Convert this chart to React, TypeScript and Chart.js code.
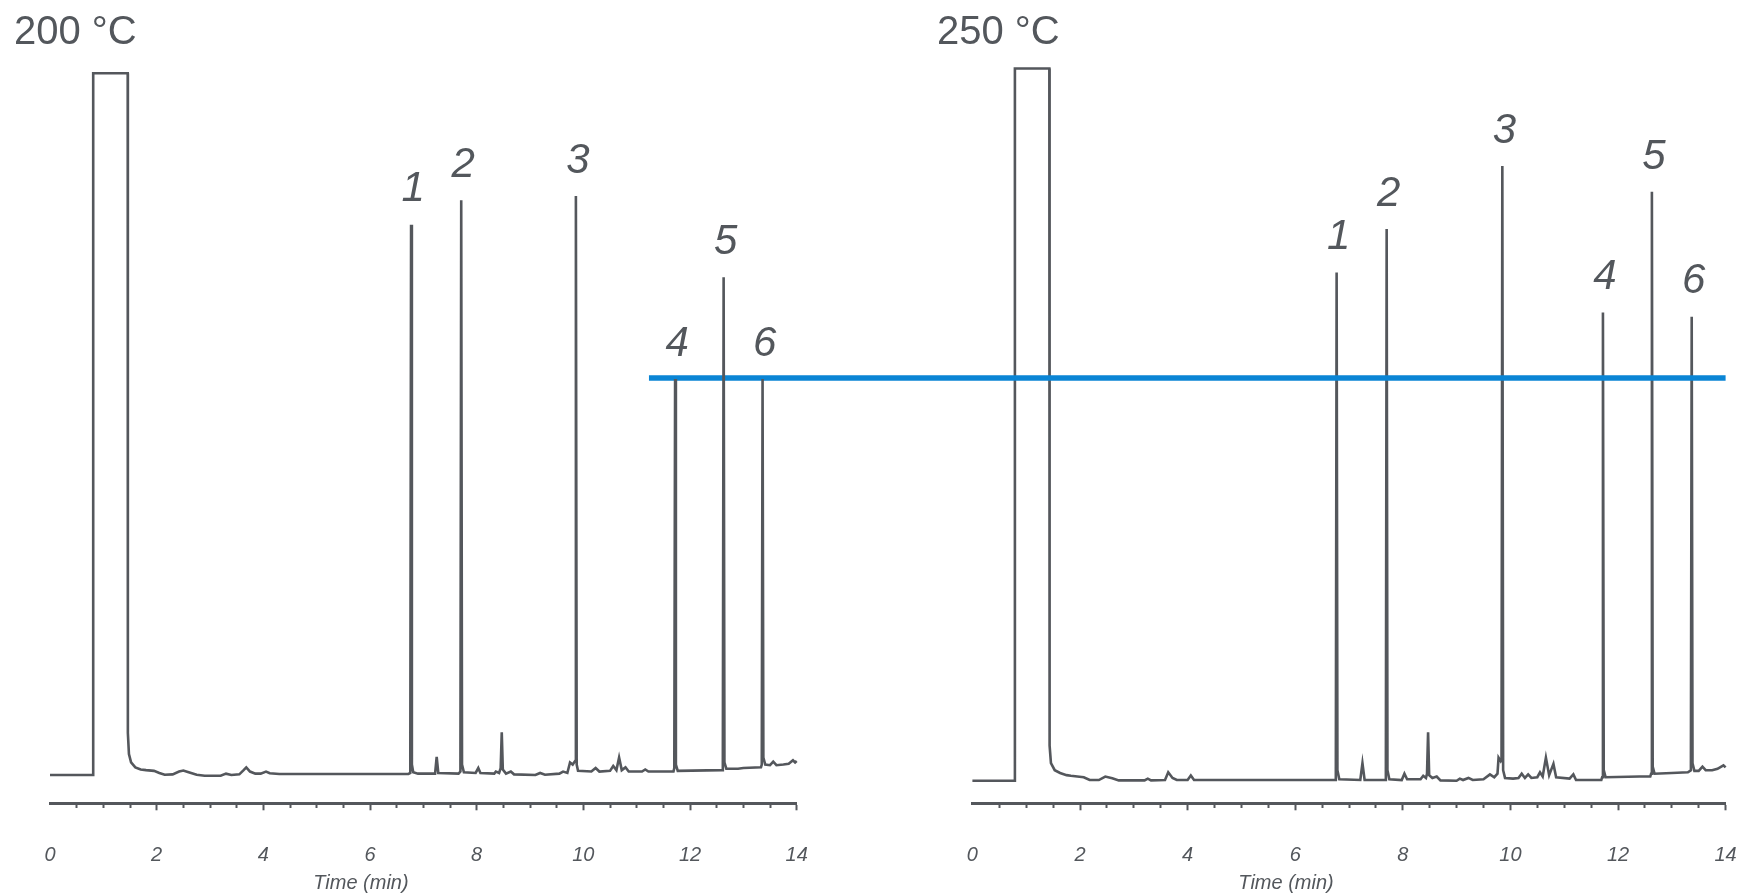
import React, { useEffect, useRef } from 'react';
import { Chart, registerables } from 'chart.js';

Chart.register(...registerables);

// ---------- data ----------
const panelTitles = ['200 °C', '250 °C'];
const axisTitle = 'Time (min)';
const peakLabels = ['1', '2', '3', '4', '5', '6'];

// chromatogram at 200 °C : [time (min), signal]
const trace200: [number, number][] = [
  [0, 0], [0.81, 0], [0.81, 100.1], [1.457, 100.1], [1.46, 6], [1.48, 3], [1.52, 1.8], [1.6, 1.1],
  [1.7, 0.8], [1.8, 0.7], [1.95, 0.6], [2.05, 0.3], [2.15, 0.05], [2.3, 0.1], [2.42, 0.5], [2.5, 0.65],
  [2.6, 0.4], [2.75, 0.05], [2.9, -0.1], [3.2, -0.1], [3.3, 0.2], [3.4, 0.0], [3.55, 0.1], [3.63, 0.7],
  [3.68, 1.1], [3.75, 0.5], [3.85, 0.2], [3.95, 0.2], [4.05, 0.5], [4.12, 0.25], [4.3, 0.15], [6.72, 0.15],
  [6.755, 0.3], [6.77, 78.5], [6.785, 1.5], [6.81, 0.4], [6.9, 0.2], [7.22, 0.2], [7.25, 2.6], [7.28, 0.3],
  [7.66, 0.2], [7.695, 0.5], [7.71, 82.0], [7.725, 1.5], [7.76, 0.4], [7.98, 0.3], [8.03, 1.0], [8.07, 0.3],
  [8.33, 0.2], [8.36, 0.5], [8.42, 0.3], [8.45, 1.0], [8.47, 6.1], [8.49, 0.8], [8.55, 0.2], [8.64, 0.5],
  [8.7, 0.1], [9.1, 0.0], [9.19, 0.3], [9.28, 0.05], [9.55, 0.2], [9.62, 0.5], [9.7, 0.3], [9.75, 1.8],
  [9.8, 1.5], [9.845, 2], [9.86, 82.6], [9.875, 1.5], [9.9, 0.6], [10.15, 0.5], [10.23, 1.0], [10.3, 0.5],
  [10.5, 0.6], [10.56, 1.3], [10.62, 0.7], [10.67, 2.5], [10.72, 0.7], [10.79, 1.1], [10.85, 0.5], [11.1, 0.5],
  [11.16, 0.8], [11.22, 0.5], [11.69, 0.5], [11.705, 1], [11.72, 56.5], [11.735, 1.5], [11.77, 0.6], [12.6, 0.7],
  [12.615, 1], [12.63, 71.0], [12.645, 1.8], [12.68, 0.9], [12.9, 0.9], [13.0, 1.0], [13.33, 1.1], [13.345, 1.5],
  [13.36, 56.5], [13.375, 2.5], [13.41, 1.5], [13.5, 1.4], [13.56, 1.9], [13.62, 1.4], [13.75, 1.5], [13.85, 1.6],
  [13.93, 2.1], [13.97, 1.8], [14, 2.0],
];

// chromatogram at 250 °C : [time (min), signal]
const trace250: [number, number][] = [
  [0, 0], [0.79, 0], [0.79, 101.6], [1.43, 101.6], [1.435, 5], [1.46, 2.5], [1.53, 1.5], [1.63, 1.1],
  [1.75, 0.8], [1.83, 0.7], [1.95, 0.6], [2.07, 0.5], [2.18, 0.1], [2.35, 0.1], [2.47, 0.6], [2.6, 0.35],
  [2.72, 0.05], [3.2, 0.05], [3.26, 0.3], [3.32, 0.05], [3.58, 0.1], [3.64, 1.2], [3.72, 0.4], [3.8, 0.1],
  [4.0, 0.1], [4.06, 0.75], [4.12, 0.1], [6.74, 0.1], [6.755, 0.5], [6.77, 72.5], [6.785, 1.5], [6.82, 0.2],
  [7.21, 0.1], [7.25, 2.5], [7.29, 0.1], [7.67, 0.1], [7.685, 0.5], [7.70, 78.7], [7.715, 1.5], [7.75, 0.2],
  [7.98, 0.1], [8.03, 1.0], [8.08, 0.2], [8.33, 0.2], [8.38, 0.7], [8.43, 0.4], [8.45, 1], [8.47, 6.9],
  [8.49, 0.8], [8.55, 0.4], [8.63, 0.6], [8.7, 0.05], [9.0, 0.0], [9.06, 0.3], [9.12, 0.1], [9.22, 0.4],
  [9.3, 0.1], [9.5, 0.2], [9.62, 0.9], [9.7, 0.5], [9.76, 1.0], [9.78, 3.3], [9.82, 2.8], [9.835, 3],
  [9.85, 87.7], [9.865, 1.5], [9.9, 0.4], [10.05, 0.3], [10.15, 0.4], [10.21, 1.0], [10.27, 0.4], [10.33, 0.9],
  [10.39, 0.4], [10.5, 0.5], [10.55, 1.2], [10.6, 0.6], [10.66, 3.3], [10.72, 0.8], [10.8, 2.4], [10.85, 0.5],
  [11.1, 0.3], [11.17, 0.9], [11.22, 0.1], [11.69, 0.1], [11.705, 0.5], [11.72, 66.8], [11.735, 1.5], [11.77, 0.5],
  [12.4, 0.6], [12.6, 0.6], [12.615, 1], [12.63, 84.0], [12.645, 2], [12.68, 1.0], [13.0, 1.1], [13.3, 1.2],
  [13.355, 1.5], [13.37, 66.2], [13.385, 2.5], [13.42, 1.4], [13.5, 1.4], [13.57, 2.0], [13.63, 1.5], [13.75, 1.5],
  [13.85, 1.7], [13.96, 2.2], [14, 1.9],
];

const peakTimes200 = [6.77, 7.71, 9.86, 11.72, 12.63, 13.36];
const peakHeights200 = [78.5, 82.0, 82.6, 56.5, 71.0, 56.5];
const peakTimes250 = [6.77, 7.7, 9.85, 11.72, 12.63, 13.37];
const peakHeights250 = [72.5, 78.7, 87.7, 66.8, 84.0, 66.2];

// horizontal reference level (blue line) in each panel's signal units
const refLevel200 = 56.63;
const refLevel250 = 57.45;
const refRange200: [number, number] = [11.23, 16];
const refRange250: [number, number] = [-3, 14];

const xMin = 0;
const xMax = 14;
const axisTitleAt = 5.83;

// ---------- styles ----------
const FONT = '"Liberation Sans", Arial, Helvetica, sans-serif';
const TRACE = '#54575c';
const TEXT = '#53575c';
const BLUE = '#0a85d5';
const H = 893;

type PanelCfg = {
  title: string;
  trace: [number, number][];
  peakTimes: number[];
  peakHeights: number[];
  refLevel: number;
  refRange: [number, number];
  width: number;
  padLeft: number;
  padRight: number;
  yMin: number;
  yMax: number;
  titleX: number;
  refOnTop: boolean;
};

const panels: PanelCfg[] = [
  {
    title: panelTitles[0], trace: trace200, peakTimes: peakTimes200, peakHeights: peakHeights200,
    refLevel: refLevel200, refRange: refRange200, width: 868, padLeft: 50, padRight: 71.3,
    yMin: -4.03, yMax: 102.0, titleX: 14, refOnTop: false,
  },
  {
    title: panelTitles[1], trace: trace250, peakTimes: peakTimes250, peakHeights: peakHeights250,
    refLevel: refLevel250, refRange: refRange250, width: 869, padLeft: 104.4, padRight: 11.4,
    yMin: -3.22, yMax: 102.81, titleX: 69, refOnTop: true,
  },
];

function Panel({ cfg }: { cfg: PanelCfg }) {
  const ref = useRef<HTMLCanvasElement>(null);
  useEffect(() => {
    const canvas = ref.current;
    if (!canvas) return;
    const traceDs: any = {
      data: cfg.trace.map(([x, y]) => ({ x, y })),
      borderColor: TRACE,
      borderWidth: 2.6,
      pointRadius: 0,
      tension: 0,
      fill: false,
      borderJoinStyle: 'miter',
      clip: false,
    };
    const refDs: any = {
      data: cfg.refRange.map((x) => ({ x, y: cfg.refLevel })),
      borderColor: BLUE,
      borderWidth: 5.5,
      pointRadius: 0,
      fill: false,
      borderCapStyle: 'butt',
      clip: false,
    };
    const annot = {
      id: 'annot',
      afterDatasetsDraw(chart: any) {
        const ctx = chart.ctx;
        const xs = chart.scales.x;
        const ys = chart.scales.y;
        ctx.save();
        ctx.fillStyle = TEXT;
        // panel title
        ctx.font = `40px ${FONT}`;
        ctx.textAlign = 'left';
        ctx.textBaseline = 'alphabetic';
        ctx.fillText(cfg.title, cfg.titleX, 43.5);
        // peak numbers
        ctx.font = `italic 42px ${FONT}`;
        ctx.textAlign = 'center';
        ctx.textBaseline = 'middle';
        cfg.peakTimes.forEach((t, i) => {
          const px = xs.getPixelForValue(t) + 2;
          const py = ys.getPixelForValue(cfg.peakHeights[i]) - 35;
          ctx.fillText(peakLabels[i], px, py);
        });
        // axis title
        ctx.font = `italic 20px ${FONT}`;
        ctx.textBaseline = 'alphabetic';
        ctx.fillText(axisTitle, xs.getPixelForValue(axisTitleAt), 888.5);
        ctx.restore();
      },
    };
    const isMajor = (v: number) => Math.abs(v % 2) < 1e-6 || Math.abs((v % 2) - 2) < 1e-6;
    const chart = new Chart(canvas, {
      type: 'line',
      data: { datasets: cfg.refOnTop ? [refDs, traceDs] : [traceDs, refDs] },
      options: {
        animation: false,
        responsive: false,
        devicePixelRatio: 1,
        layout: { padding: { top: 60, left: cfg.padLeft, right: cfg.padRight, bottom: 0 } },
        plugins: { legend: { display: false }, tooltip: { enabled: false }, title: { display: false } },
        scales: {
          x: {
            type: 'linear',
            min: xMin,
            max: xMax,
            afterFit: (s: any) => { s.height = 89.7; },
            border: { display: true, color: TRACE, width: 3 },
            grid: {
              drawOnChartArea: false,
              drawTicks: true,
              tickLength: 7,
              tickWidth: 2,
              tickColor: (c: any) => (c.tick && c.tick.value === 0 ? 'rgba(0,0,0,0)' : TRACE),
              tickBorderDash: (c: any) => (c.tick && isMajor(c.tick.value) ? [] : [3, 30]),
            } as any,
            ticks: {
              stepSize: 0.5,
              autoSkip: false,
              maxRotation: 0,
              padding: 0,
              color: TEXT,
              font: { family: FONT, size: 20, style: 'italic', lineHeight: '90.8px' },
              callback: (v: any) => (isMajor(Number(v)) ? String(Math.round(Number(v))) : ''),
            },
          },
          y: {
            type: 'linear',
            display: false,
            min: cfg.yMin,
            max: cfg.yMax,
          },
        },
      } as any,
      plugins: [annot],
    });
    return () => chart.destroy();
  }, [cfg]);
  return (
    <canvas
      ref={ref}
      width={cfg.width}
      height={H}
      style={{ display: 'block', width: cfg.width, height: H, flex: 'none' }}
    />
  );
}

export default function App() {
  return (
    <div
      style={{
        position: 'fixed',
        left: 0,
        top: 0,
        width: 1737,
        height: H,
        display: 'flex',
        background: '#ffffff',
        overflow: 'hidden',
      }}
    >
      {panels.map((p, i) => (
        <Panel key={i} cfg={p} />
      ))}
    </div>
  );
}
